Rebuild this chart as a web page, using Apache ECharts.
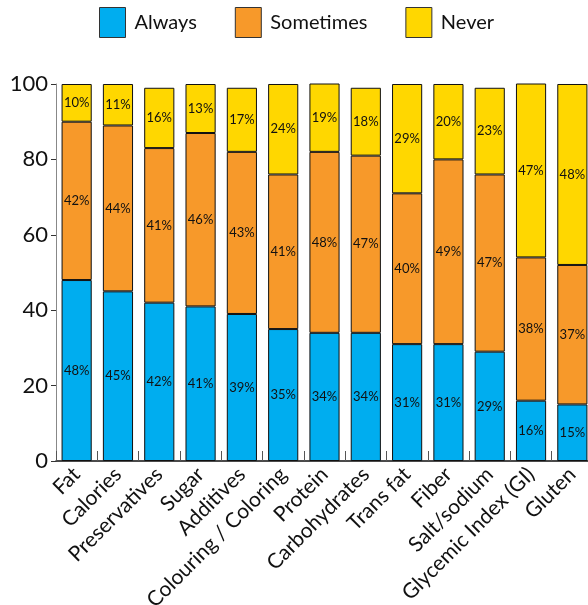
<!DOCTYPE html>
<html>
<head>
<meta charset="utf-8">
<script src="https://cdn.jsdelivr.net/npm/echarts@6/dist/echarts.min.js"></script>
<style>
  html, body { margin: 0; padding: 0; background: #fff; overflow: hidden; }
  #chart { width: 594px; height: 605px; }
</style>
</head>
<body>
<div id="chart"></div>
<script>
const categories = ['Fat', 'Calories', 'Preservatives', 'Sugar', 'Additives',
  'Colouring / Coloring', 'Protein', 'Carbohydrates', 'Trans fat', 'Fiber',
  'Salt/sodium', 'Glycemic Index (GI)', 'Gluten'];
const always    = [48, 45, 42, 41, 39, 35, 34, 34, 31, 31, 29, 16, 15];
const sometimes = [42, 44, 41, 46, 43, 41, 48, 47, 40, 49, 47, 38, 37];
const never     = [10, 11, 16, 13, 17, 24, 19, 18, 29, 20, 23, 47, 48];
const yTicks = [0, 20, 40, 60, 80, 100];

const FONT = 'Lato, "Noto Sans", sans-serif';
const colors = { Always: '#00ADEF', Sometimes: '#F7992A', Never: '#FFD700' };

function makeSeries(name, data) {
  return {
    name: name,
    type: 'bar',
    stack: 'total',
    data: data,
    barCategoryGap: '27%',
    itemStyle: { color: colors[name], borderColor: '#111', borderWidth: 1 },
    label: {
      show: true,
      position: 'inside',
      formatter: '{c}%',
      color: '#111',
      fontFamily: FONT,
      fontSize: 13
    }
  };
}

const chart = echarts.init(document.getElementById('chart'), null, { renderer: 'canvas' });
chart.setOption({
  animation: false,
  legend: {
    top: 2,
    left: 94,
    itemWidth: 26,
    itemHeight: 30,
    itemGap: 38,
    icon: 'rect',
    itemStyle: { borderColor: '#333', borderWidth: 1 },
    textStyle: { fontFamily: FONT, fontSize: 20, color: '#111', padding: [0, 0, 0, 4] },
    data: ['Always', 'Sometimes', 'Never']
  },
  grid: {
    left: 56, right: 1, top: 84, bottom: 144,
    containLabel: false,
    outerBoundsMode: 'none'
  },
  xAxis: {
    type: 'category',
    data: categories,
    axisLine: { lineStyle: { color: '#111', width: 1.5 } },
    axisTick: { show: true, inside: true, length: 10, lineStyle: { color: '#555' } },
    axisLabel: {
      rotate: 45,
      interval: 0,
      fontFamily: FONT,
      fontSize: 21,
      color: '#111',
      margin: 10
    }
  },
  yAxis: {
    type: 'value',
    min: 0,
    max: 100,
    interval: 20,
    axisLine: { show: true, lineStyle: { color: '#888', width: 1 } },
    axisTick: { show: true, length: 5, lineStyle: { color: '#333' } },
    splitLine: { show: false },
    axisLabel: {
      fontFamily: FONT,
      fontSize: 22,
      color: '#111',
      margin: 8,
      formatter: v => (yTicks.includes(v) ? String(v) : '')
    }
  },
  series: [
    makeSeries('Always', always),
    makeSeries('Sometimes', sometimes),
    makeSeries('Never', never)
  ]
});
</script>
</body>
</html>
